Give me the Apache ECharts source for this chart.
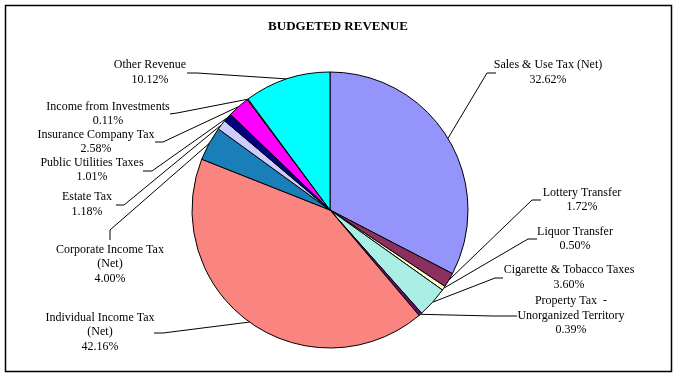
<!DOCTYPE html>
<html>
<head>
<meta charset="utf-8">
<script src="https://cdn.jsdelivr.net/npm/echarts@6/dist/echarts.min.js"></script>
<style>html,body{margin:0;padding:0;background:#fff}#c{width:678px;height:377px}</style>
</head>
<body>
<div id="c"></div>
<script>
var categories = [
  "Sales & Use Tax (Net)",
  "Lottery Transfer",
  "Liquor Transfer",
  "Cigarette & Tobacco Taxes",
  "Property Tax  -\nUnorganized Territory",
  "Individual Income Tax\n(Net)",
  "Corporate Income Tax\n(Net)",
  "Estate Tax",
  "Public Utilities Taxes",
  "Insurance Company Tax",
  "Income from Investments",
  "Other Revenue"
];
var percents = [32.62, 1.72, 0.50, 3.60, 0.39, 42.16, 4.00, 1.18, 1.01, 2.58, 0.11, 10.12];
var colors = ["#9494FA", "#8C3060", "#FFFFCC", "#AAEEE6", "#66106E", "#FA8580",
              "#1A7FB8", "#CCCCFF", "#000080", "#FF00FF", "#FFFF00", "#00FFFF"];
var title = "BUDGETED REVENUE";

// label layout: [blockX, blockY, elbowX, elbowY, endX, endY]
var labelLayoutPos = [
  [548, 72.5, 487, 73, 496, 73],
  [582, 200, 532, 200, 541, 200],
  [575, 239, 528, 239, 537, 239],
  [569, 277.5, 495, 278, 503, 278],
  [571, 315.5, 493, 316, 517, 316],
  [100, 332, 163, 333, 154, 333],
  [110, 264, 110, 230, 110, 240],
  [87, 204.5, 124, 205, 116, 205],
  [92, 170, 152, 171, 143, 171],
  [96, 142, 163, 142, 155, 142],
  [108, 114, 177, 113, 170, 114],
  [150, 72.5, 197, 73, 187, 73]
];

var chart = echarts.init(document.getElementById('c'), null, {renderer: 'canvas'});
var data = categories.map(function (n, i) {
  return {name: n, value: percents[i], itemStyle: {color: colors[i]}};
});
chart.setOption({
  animation: false,
  backgroundColor: '#fff',
  title: {
    text: title, left: 333, top: 15, textAlign: 'center',
    textStyle: {fontFamily: 'Liberation Serif', fontSize: 13, fontWeight: 'bold', color: '#000'}
  },
  graphic: [{
    type: 'rect', shape: {x: 5.5, y: 5.5, width: 666, height: 366},
    style: {fill: 'none', stroke: '#000', lineWidth: 1.5}, silent: true, z: -1
  }],
  series: [{
    type: 'pie',
    center: [330, 210],
    radius: 138,
    startAngle: 90,
    clockwise: true,
    avoidLabelOverlap: false,
    data: data,
    itemStyle: {borderColor: '#000', borderWidth: 1},
    label: {
      show: true,
      position: 'outside',
      fontFamily: 'Liberation Serif',
      fontSize: 12,
      lineHeight: 14.5,
      color: '#000',
      align: 'center',
      formatter: function (p) { return p.name + '\n' + p.value.toFixed(2) + '%'; }
    },
    labelLine: {show: true, lineStyle: {color: '#000', width: 1}},
    labelLayout: function (params) {
      var L = labelLayoutPos[params.dataIndex];
      var start = params.labelLinePoints ? params.labelLinePoints[0] : [L[2], L[3]];
      return {
        x: L[0], y: L[1], align: 'center', verticalAlign: 'middle',
        labelLinePoints: [start, [L[2], L[3]], [L[4], L[5]]]
      };
    },
    emphasis: {disabled: true}
  }]
});
</script>
</body>
</html>
